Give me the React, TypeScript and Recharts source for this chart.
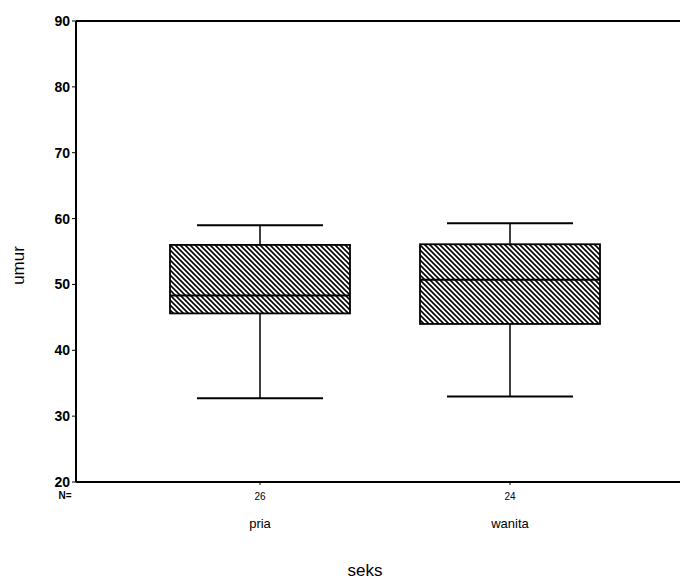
import { ComposedChart, Bar, XAxis, YAxis, ReferenceLine, Label } from "recharts";

const groups = ["pria", "wanita"];
const counts = [26, 24];
const mins = [32.7, 33.0];
const q1s = [45.6, 44.0];
const medians = [48.3, 50.7];
const q3s = [56.0, 56.1];
const maxs = [59.0, 59.3];
const yTicks = [20, 30, 40, 50, 60, 70, 80, 90];

const data = groups.map((name, i) => ({
  name,
  n: counts[i],
  min: mins[i],
  q1: q1s[i],
  median: medians[i],
  q3: q3s[i],
  max: maxs[i],
  box: [q1s[i], q3s[i]],
}));

const FONT = "'Liberation Sans', Arial, sans-serif";

function BoxShape(props: any) {
  const { x, y, width, height, payload } = props;
  const p = payload;
  const ppu = height / (p.q3 - p.q1);
  const top = y;
  const bottom = y + height;
  const yMax = top - (p.max - p.q3) * ppu;
  const yMin = bottom + (p.q1 - p.min) * ppu;
  const yMed = top + (p.q3 - p.median) * ppu;
  const cx = x + width / 2;
  const cap = width * 0.7;
  return (
    <g stroke="#000" fill="none">
      <line x1={cx} x2={cx} y1={yMax} y2={top} strokeWidth={1.5} />
      <line x1={cx} x2={cx} y1={bottom} y2={yMin} strokeWidth={1.5} />
      <line x1={cx - cap / 2} x2={cx + cap / 2} y1={yMax} y2={yMax} strokeWidth={2} />
      <line x1={cx - cap / 2} x2={cx + cap / 2} y1={yMin} y2={yMin} strokeWidth={2} />
      <rect x={x} y={top} width={width} height={height} fill="url(#hatch)" strokeWidth={1.8} />
      <line x1={x} x2={x + width} y1={yMed} y2={yMed} strokeWidth={2} />
    </g>
  );
}

function XTick(props: any) {
  const { x, y, payload, index } = props;
  return (
    <g fontFamily={FONT} fill="#000">
      <text x={x} y={y + 13} textAnchor="middle" fontSize={10}>
        {counts[index]}
      </text>
      <text x={x} y={y + 41} textAnchor="middle" fontSize={13}>
        {payload.value}
      </text>
    </g>
  );
}

export default function App() {
  return (
    <div style={{ width: 680, height: 580 }}>
      <ComposedChart
        width={680}
        height={580}
        data={data}
        margin={{ top: 13, right: 0, left: 0, bottom: 0 }}
      >
        <defs>
          <pattern id="hatch" width={5} height={5} patternUnits="userSpaceOnUse">
            <rect width={5} height={5} fill="#fff" />
            <path d="M0,0 L5,5 M-1,4 L1,6 M4,-1 L6,1" stroke="#000" strokeWidth={1.6} />
          </pattern>
        </defs>
        <XAxis
          dataKey="name"
          height={106}
          padding={{ left: 59, right: 53 }}
          axisLine={{ stroke: "#000", strokeWidth: 2 }}
          tickLine={{ stroke: "#000" }}
          tickSize={3}
          tick={<XTick />}
          interval={0}
        >
          <Label
            content={(p: any) => (
              <text
                x={p.viewBox.x - 11}
                y={p.viewBox.y + 17}
                textAnchor="middle"
                fontSize={10}
                fontWeight="bold"
                fontFamily={FONT}
              >
                N=
              </text>
            )}
          />
          <Label
            value="seks"
            position="insideBottom"
            offset={12}
            dx={-17}
            style={{ fontSize: 17, fill: "#000", fontFamily: FONT }}
          />
        </XAxis>
        <YAxis
          width={68}
          domain={[20, 90]}
          ticks={yTicks}
          interval={0}
          axisLine={{ stroke: "#000", strokeWidth: 2 }}
          tickLine={{ stroke: "#000" }}
          tickSize={4}
          tickMargin={2}
          tick={{ fontSize: 14, fontWeight: "bold", fill: "#000", fontFamily: FONT }}
        >
          <Label
            content={(p: any) => (
              <text
                x={12}
                y={p.viewBox.y + p.viewBox.height / 2 + 14}
                transform={`rotate(-90 12 ${p.viewBox.y + p.viewBox.height / 2 + 14})`}
                textAnchor="middle"
                dominantBaseline="middle"
                fontSize={17}
                fontFamily={FONT}
              >
                umur
              </text>
            )}
          />
        </YAxis>
        <ReferenceLine y={90} stroke="#000" strokeWidth={2} />
        <Bar dataKey="box" barSize={180} shape={<BoxShape />} isAnimationActive={false} />
      </ComposedChart>
    </div>
  );
}
